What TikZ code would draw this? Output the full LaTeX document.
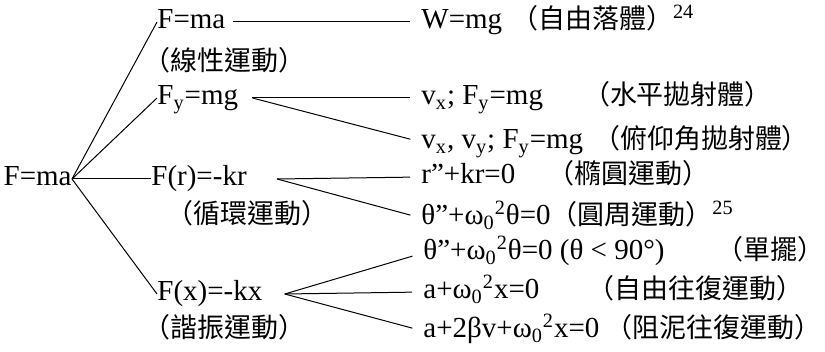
\documentclass[tikz,border=0pt]{standalone}
\usepackage{fontspec}
\setmainfont{Liberation Serif}
\newfontfamily\cjk{Noto Sans CJK TC}[Scale=0.93]
\usepackage{tikz}
\usetikzlibrary{positioning}

\begin{document}
\begin{tikzpicture}[
    x=0.5pt, y=-0.5pt,
    % ── Formula text: no frame, fixed height so lines meet mid-text ──
    eq/.style={
        inner xsep=0pt, inner ysep=0pt, anchor=west,
        text height=0.7em, text depth=0pt,
        font=\fontsize{14.5}{17}\selectfont
    },
    % ── Motion names in brackets ─────────────────────────────────────
    tag/.style={eq, font=\fontsize{14.5}{17}\selectfont\cjk},
    % ── Plain thin branch lines ──────────────────────────────────────
    link/.style={line width=0.5pt, draw=black},
    % ── Lines into the result column stop short of the text ─────────
    reslink/.style={link, shorten >=5.5pt}
]
\useasboundingbox (0,0) rectangle (825,352);

% ══════════════════════════════════════════════════════════════════════
% NODE PLACEMENT
% ══════════════════════════════════════════════════════════════════════

    % ── Root ──
    \node[eq, anchor=east] (root) at (72,179) {F=ma};

    % ── Force laws ──────────────────────────────────
    \node[eq] (lin)  at (157,22)  {F=ma};
    \node[tag] (linT) at (143,64) {（線性運動）};
    \node[eq] (proj) at (157,98)  {F\textsubscript{y}=mg};
    \node[eq] (cent) at (151,179) {F(r)=-kr};
    \node[tag] (centT) at (166,217) {（循環運動）};
    \node[eq] (harm) at (157,294) {F(x)=-kx};
    \node[tag] (harmT) at (143,330) {（諧振運動）};

    % ── Results ─────────────────────────────────────
    \node[eq] (fall)  at (421,22)
        {W=mg\hspace{4.5pt}{\cjk （自由落體）}\textsuperscript{24}};
    \node[eq] (horz)  at (421,98)
        {v\textsubscript{x}; F\textsubscript{y}=mg\hspace{20pt}{\cjk （水平拋射體）}};
    \node[eq] (angl)  at (421,142)
        {v\textsubscript{x}, v\textsubscript{y}; F\textsubscript{y}=mg\hspace{5pt}{\cjk （俯仰角拋射體）}};
    \node[eq] (ellip) at (421,177)
        {r”+kr=0\hspace{16pt}{\cjk （橢圓運動）}};
    \node[eq] (circ)  at (421,218)
        {θ”+ω\textsubscript{0}\textsuperscript{2}θ=0{\cjk （圓周運動）}\textsuperscript{25}};
    \node[eq] (pend)  at (423,253)
        {θ”+ω\textsubscript{0}\textsuperscript{2}θ=0 (θ < 90°)\hspace{26pt}{\cjk （單擺）}};
    \node[eq] (free)  at (423,292)
        {a+ω\textsubscript{0}\textsuperscript{2}x=0\hspace{24pt}{\cjk （自由往復運動）}};
    \node[eq] (damp)  at (423,331)
        {a+2βv+ω\textsubscript{0}\textsuperscript{2}x=0\hspace{3pt}{\cjk （阻泥往復運動）}};

% ══════════════════════════════════════════════════════════════════════
% CONNECTIONS
% ══════════════════════════════════════════════════════════════════════

    \draw[link] (root.east) -- (lin.west);
    \draw[link] (root.east) -- (proj.west);
    \draw[link] (root.east) -- (cent.west);
    \draw[link] (root.east) -- (harm.west);

    \draw[reslink] ([xshift=3.5pt]lin.east) -- (fall.west);

    \draw[reslink] ([xshift=7pt]proj.east) -- (horz.west);
    \draw[reslink] ([xshift=7pt]proj.east) -- (angl.west);

    \draw[reslink] ([xshift=15pt]cent.east) -- (ellip.west);
    \draw[reslink] ([xshift=15pt]cent.east) -- (circ.west);

    \draw[reslink] ([xshift=11pt]harm.east) -- (pend.west);
    \draw[reslink] ([xshift=11pt]harm.east) -- (free.west);
    \draw[reslink] ([xshift=11pt]harm.east) -- (damp.west);

\end{tikzpicture}
\end{document}
